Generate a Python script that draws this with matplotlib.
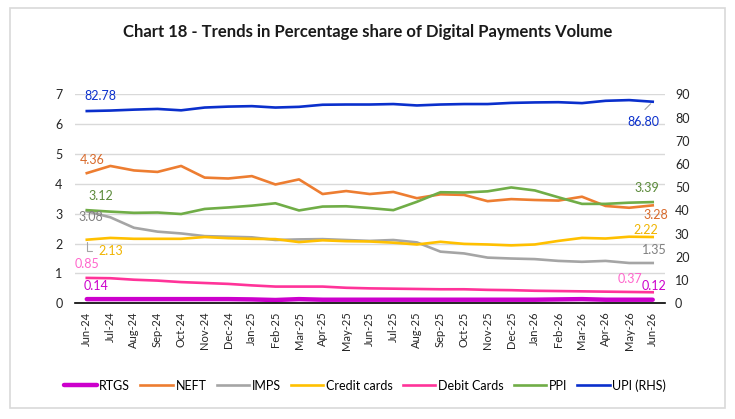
import matplotlib
matplotlib.use("Agg")
import matplotlib.pyplot as plt
from matplotlib.patches import Rectangle

plt.rcParams['font.family'] = ['Lato', 'DejaVu Sans']

months = ["Jun-24", "Jul-24", "Aug-24", "Sep-24", "Oct-24", "Nov-24", "Dec-24", "Jan-25",
          "Feb-25", "Mar-25", "Apr-25", "May-25", "Jun-25", "Jul-25", "Aug-25", "Sep-25",
          "Oct-25", "Nov-25", "Dec-25", "Jan-26", "Feb-26", "Mar-26", "Apr-26", "May-26", "Jun-26"]

rtgs = [0.14, 0.14, 0.14, 0.14, 0.14, 0.14, 0.14, 0.13, 0.11, 0.14, 0.12, 0.12, 0.12,
        0.12, 0.12, 0.12, 0.12, 0.12, 0.12, 0.12, 0.13, 0.14, 0.12, 0.12, 0.12]
neft = [4.36, 4.60, 4.45, 4.40, 4.60, 4.21, 4.18, 4.26, 3.98, 4.15, 3.66, 3.76, 3.66,
        3.73, 3.52, 3.65, 3.63, 3.42, 3.49, 3.46, 3.44, 3.57, 3.26, 3.20, 3.28]
imps = [3.08, 2.88, 2.53, 2.40, 2.34, 2.25, 2.23, 2.21, 2.12, 2.14, 2.15, 2.12, 2.09,
        2.12, 2.04, 1.73, 1.67, 1.53, 1.50, 1.48, 1.42, 1.39, 1.42, 1.35, 1.35]
credit = [2.13, 2.19, 2.16, 2.16, 2.16, 2.22, 2.18, 2.16, 2.15, 2.05, 2.11, 2.08, 2.07,
          2.03, 1.97, 2.06, 1.99, 1.97, 1.94, 1.97, 2.09, 2.19, 2.17, 2.23, 2.22]
debit = [0.85, 0.84, 0.79, 0.76, 0.71, 0.68, 0.65, 0.60, 0.56, 0.56, 0.56, 0.52, 0.50,
         0.49, 0.48, 0.47, 0.47, 0.45, 0.44, 0.42, 0.41, 0.40, 0.39, 0.38, 0.37]
ppi = [3.12, 3.07, 3.03, 3.04, 2.99, 3.16, 3.21, 3.27, 3.35, 3.11, 3.24, 3.25, 3.19,
       3.12, 3.40, 3.72, 3.71, 3.75, 3.88, 3.78, 3.55, 3.33, 3.33, 3.37, 3.39]
upi = [82.78, 83.0, 83.4, 83.7, 83.1, 84.3, 84.7, 84.9, 84.3, 84.6, 85.5, 85.6, 85.6,
       85.8, 85.2, 85.6, 85.8, 85.8, 86.3, 86.5, 86.6, 86.2, 87.2, 87.5, 86.80]

C_RTGS = "#CC00CC"
C_NEFT = "#ED7D31"
C_IMPS = "#A5A5A5"
C_CC = "#FFC000"
C_DC = "#FF3399"
C_PPI = "#70AD47"
C_UPI = "#0A2FCC"

fig = plt.figure(figsize=(7.35, 4.19), dpi=100)
fig.patches.append(Rectangle((10/735, 1 - 408/419), (725-10)/735, (408-8)/419,
                             transform=fig.transFigure, fill=False,
                             edgecolor="#d9d9d9", linewidth=1.2))

ax = fig.add_axes([75/735, 1 - 303.3/419, (664.5-75)/735, (303.3-94.3)/419])
ax2 = ax.twinx()

x = list(range(len(months)))
l1, = ax.plot(x, rtgs, color=C_RTGS, lw=3.2, label="RTGS", solid_capstyle="round")
l2, = ax.plot(x, neft, color=C_NEFT, lw=1.9, label="NEFT")
l3, = ax.plot(x, imps, color=C_IMPS, lw=1.9, label="IMPS")
l4, = ax.plot(x, credit, color=C_CC, lw=1.9, label="Credit cards")
l5, = ax.plot(x, debit, color=C_DC, lw=1.9, label="Debit Cards")
l6, = ax.plot(x, ppi, color=C_PPI, lw=1.9, label="PPI")
l7, = ax2.plot(x, upi, color=C_UPI, lw=1.9, label="UPI (RHS)")

ax.set_xlim(-0.5, len(months) - 0.5)
ax.set_ylim(0, 7)
ax2.set_ylim(0, 90)
ax.set_yticks(range(0, 8))
ax2.set_yticks(range(0, 91, 10))
ax.set_xticks(x)
ax.set_xticklabels(months, rotation=90, fontsize=8, color="#262626")
ax.tick_params(axis="y", length=0, labelsize=9, pad=9, labelcolor="#262626")
ax2.tick_params(axis="y", length=0, labelsize=9, pad=7.5, labelcolor="#262626")
ax.tick_params(axis="x", length=0, pad=6)
ax.grid(axis="y", color="#d9d9d9", lw=1)
ax.set_axisbelow(True)
for s in ["top", "left", "right"]:
    ax.spines[s].set_visible(False)
    ax2.spines[s].set_visible(False)
ax2.spines["bottom"].set_visible(False)
ax.spines["bottom"].set_color("#000000")
ax.spines["bottom"].set_linewidth(1.2)

fs = 9
def lab(a, i, v, txt, dx, dy, color, ha="center"):
    a.annotate(txt, xy=(i, v), xytext=(dx, dy), textcoords="offset points",
               ha=ha, va="center", fontsize=fs, color=color)

last = len(months) - 1
lab(ax2, 0, upi[0], f"{upi[0]:.2f}", 10, 11, C_UPI)
lab(ax, 0, neft[0], f"{neft[0]:.2f}", 4, 9.5, "#D8692A")
lab(ax, 0, ppi[0], f"{ppi[0]:.2f}", 10, 10, "#5B8A3A")
lab(ax, 0, imps[0], f"{imps[0]:.2f}", 3, -4.3, "#7F7F7F")
lab(ax, 0, credit[0], f"{credit[0]:.2f}", 17, -8, "#F0B400")
lab(ax, 0, debit[0], f"{debit[0]:.2f}", 0.5, 10, "#FF66CC")
lab(ax, 0, rtgs[0], f"{rtgs[0]:.2f}", 7, 9.5, C_RTGS)
# leader for credit cards label
ax.annotate("", xy=(0, credit[0]), xytext=(6, -8), textcoords="offset points",
            arrowprops=dict(arrowstyle="-", color="#A5A5A5", lw=0.8,
                            connectionstyle="angle,angleA=0,angleB=90,rad=0"))

lab(ax2, last, upi[-1], f"{upi[-1]:.2f}", -6.6, -14.6, C_UPI)
ax2.annotate("", xy=(last, upi[-1]), xytext=(-7, -7), textcoords="offset points",
             arrowprops=dict(arrowstyle="-", color="#A5A5A5", lw=0.8))
lab(ax, last, ppi[-1], f"{ppi[-1]:.2f}", -4.5, 10, "#5B8A3A")
lab(ax, last, neft[-1], f"{neft[-1]:.2f}", 2, -7, "#D8692A")
lab(ax, last, credit[-1], f"{credit[-1]:.2f}", -5, 5, "#F0B400")
lab(ax, last, imps[-1], f"{imps[-1]:.2f}", 1, 9.4, "#7F7F7F")
lab(ax, last, debit[-1], f"{debit[-1]:.2f}", -16, 9.6, "#FF66CC")
lab(ax, last, rtgs[-1], f"{rtgs[-1]:.2f}", 1, 10, C_RTGS)

fig.text(0.5, 1 - 32/419, "Chart 18 - Trends in Percentage share of Digital Payments Volume",
         ha="center", va="center", fontsize=12, fontweight="bold", color="#1a1a1a")

handles = [l1, l2, l3, l4, l5, l6, l7]
fig.legend(handles, [h.get_label() for h in handles], loc="center",
           bbox_to_anchor=(0.497, 1 - 385.5/419), ncol=7, frameon=False,
           fontsize=9, handlelength=2.6, handletextpad=0.2, columnspacing=0.82)

fig.savefig("out.png", dpi=100)
